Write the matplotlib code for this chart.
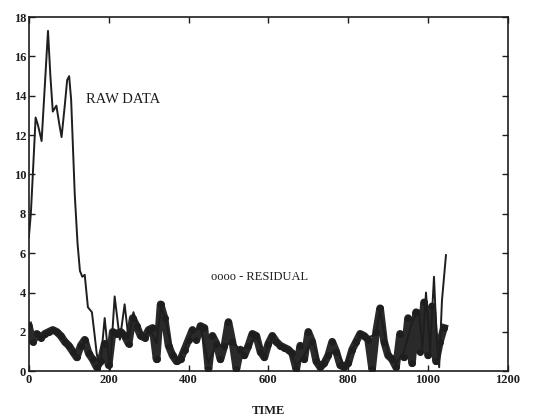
import matplotlib
matplotlib.use("Agg")
import matplotlib.pyplot as plt
import numpy as np

# ---- data ----
raw_x = [0, 5, 10, 17, 23, 32, 40, 48, 54, 60, 69, 76, 82, 90, 96, 101, 106, 115,
         122, 128, 134, 140, 148, 158, 165, 170, 178, 190, 203, 215, 228, 240, 250,
         262, 275, 290, 305, 320, 331, 345, 360, 375, 390, 410, 430, 450, 470, 490,
         510, 530, 550, 570, 590, 610, 630, 650, 670, 690, 710, 730, 750, 770, 790,
         810, 830, 850, 870, 880, 900, 920, 940, 960, 977, 986, 995, 1005, 1015,
         1022, 1028, 1035, 1045]
raw_y = [6.8, 8.0, 10.0, 12.9, 12.5, 11.7, 14.5, 17.3, 15.0, 13.2, 13.5, 12.6, 11.9,
         13.5, 14.8, 15.0, 13.8, 9.0, 6.5, 5.1, 4.8, 4.9, 3.25, 3.0, 1.8, 0.9, 0.05,
         2.7, 0.0, 3.8, 1.6, 3.4, 1.6, 3.0, 2.1, 1.8, 2.1, 1.4, 3.3, 2.4, 0.9, 0.6,
         1.2, 2.0, 2.2, 0.4, 1.4, 1.2, 1.6, 1.0, 1.3, 1.8, 0.8, 1.7, 1.3, 1.1, 0.3,
         0.8, 1.6, 0.3, 0.8, 1.1, 0.3, 1.1, 1.8, 1.7, 1.9, 3.1, 0.9, 0.4, 1.0, 2.5,
         3.1, 1.2, 4.0, 1.0, 4.8, 1.5, 0.2, 3.6, 5.9]

res_x = list(range(0, 1050, 10))
res_y = [2.3, 1.5, 1.9, 1.7, 1.9, 2.0, 2.1, 2.0, 1.8, 1.5, 1.3, 1.0, 0.7, 1.3, 1.6,
         0.9, 0.6, 0.2, 0.5, 1.4, 0.3, 2.0, 1.9, 2.0, 1.8, 1.4, 2.7, 2.3, 1.8, 1.7,
         2.1, 2.2, 0.6, 3.4, 2.7, 1.3, 0.8, 0.5, 0.6, 1.1, 1.6, 2.1, 1.6, 2.3, 2.2,
         0.1, 1.8, 1.4, 0.6, 1.3, 2.5, 1.5, 0.1, 1.1, 0.8, 1.3, 1.9, 1.8, 1.0, 0.7,
         1.4, 1.8, 1.5, 1.3, 1.2, 1.1, 0.9, 0.1, 1.3, 0.6, 2.0, 1.5, 0.5, 0.2, 0.4,
         0.8, 1.5, 1.0, 0.3, 0.2, 0.4, 1.1, 1.5, 1.9, 1.8, 1.6, 0.1, 2.0, 3.2, 1.5,
         0.8, 0.6, 0.2, 1.9, 0.7, 2.7, 0.4, 3.0, 1.0, 3.5, 0.8, 3.3, 0.5, 1.5, 2.2]

x_ticks = [0, 200, 400, 600, 800, 1000, 1200]
y_ticks = [0, 2, 4, 6, 8, 10, 12, 14, 16, 18]

# ---- figure ----
plt.rcParams['font.family'] = ['Liberation Serif', 'DejaVu Serif']
fig = plt.figure(figsize=(5.34, 4.18), dpi=100)
ax = fig.add_axes([0.054, 0.112, 0.897, 0.847])

ink = '#1e1e1e'
ax.plot(res_x, res_y, color='#2a2a2a', lw=5.5, marker='o', ms=4, mfc=ink, mec=ink,
        solid_joinstyle='round', zorder=2)
ax.plot(raw_x, raw_y, color=ink, lw=1.4, zorder=3)

ax.set_xlim(0, 1200)
ax.set_ylim(0, 18)
ax.set_xticks(x_ticks)
ax.set_yticks(y_ticks)
ax.tick_params(direction='in', top=True, right=True, length=4, width=1,
               labelsize=9, pad=2, colors=ink)
for lab in ax.get_xticklabels() + ax.get_yticklabels():
    lab.set_fontweight('bold')
for s in ax.spines.values():
    s.set_linewidth(1.2)
    s.set_color(ink)

ax.text(237, 13.8, 'RAW DATA', fontsize=10.5, color=ink, ha='center', va='center')
ax.text(578, 4.8, 'oooo - RESIDUAL', fontsize=9, color=ink, ha='center', va='center')
ax.set_xlabel('TIME', fontsize=9, fontweight='bold', color=ink, labelpad=14)

fig.savefig('out.png', dpi=100)
